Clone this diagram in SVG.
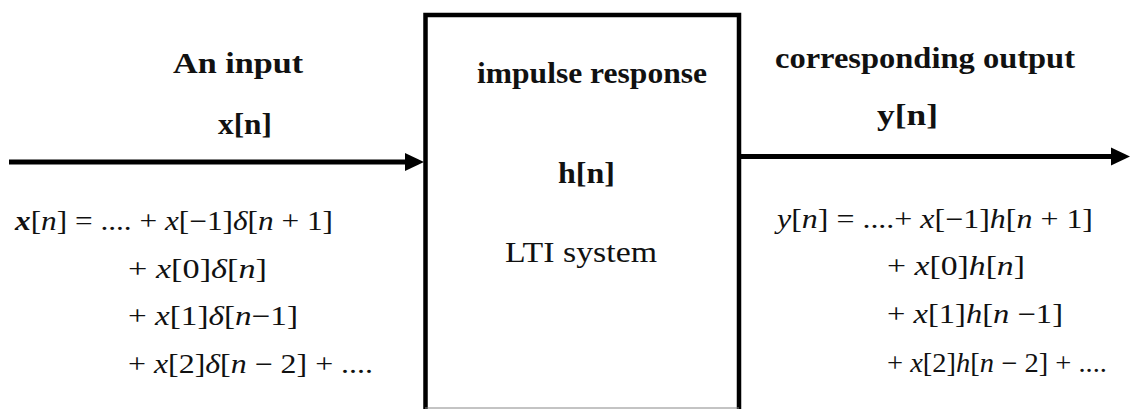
<svg xmlns="http://www.w3.org/2000/svg" width="1136" height="409" viewBox="0 0 1136 409">
<style>
.bg{fill:#ffffff}
.lbl{font-family:"Liberation Serif","Times New Roman",Tinos,serif;font-size:29px;fill:#111}
.b{font-weight:bold}
.eq{font-family:"Liberation Serif","Times New Roman",Tinos,serif;font-size:27px;fill:#111}
.i{font-style:italic}
.wire{stroke:#000;stroke-width:5;fill:none}
.box{stroke:#000;stroke-width:4.5;fill:none}
</style>
<defs>
<marker id="ah" markerUnits="userSpaceOnUse" markerWidth="20" markerHeight="20" refX="0" refY="10" orient="auto" viewBox="0 0 20 20">
<path d="M0,1 L19,10 L0,19 Z" fill="#000"/>
</marker>
</defs>
<rect class="bg" x="0" y="0" width="1136" height="409"/>

<g id="connectors">
<line class="wire" x1="9" y1="162" x2="405" y2="162" marker-end="url(#ah)"/>
<line class="wire" x1="741" y1="156.5" x2="1111" y2="156.5" marker-end="url(#ah)"/>
</g>

<g id="system">
<path class="box" d="M425.5,409 L425.5,15 L739,15 L739,409"/>
<line x1="425" y1="408" x2="739" y2="408" stroke="#888" stroke-width="1"/>
<text class="lbl b" x="477" y="83" textLength="230" lengthAdjust="spacingAndGlyphs">impulse response</text>
<text class="lbl b" x="558" y="183" textLength="57" lengthAdjust="spacingAndGlyphs">h[n]</text>
<text class="lbl" x="505" y="262" textLength="152" lengthAdjust="spacingAndGlyphs">LTI system</text>
</g>

<g id="input">
<text class="lbl b" x="173" y="73" textLength="130" lengthAdjust="spacingAndGlyphs">An  input</text>
<text class="lbl b" x="218" y="134" textLength="54" lengthAdjust="spacingAndGlyphs">x[n]</text>
<text class="eq" x="15" y="230" textLength="318" lengthAdjust="spacingAndGlyphs"><tspan class="i b">x</tspan>[<tspan class="i">n</tspan>] = ....  + <tspan class="i">x</tspan>[−1]<tspan class="i">δ</tspan>[<tspan class="i">n</tspan> + 1]</text>
<text class="eq" x="128" y="278" textLength="139" lengthAdjust="spacingAndGlyphs">+ <tspan class="i">x</tspan>[0]<tspan class="i">δ</tspan>[<tspan class="i">n</tspan>]</text>
<text class="eq" x="128" y="325" textLength="170" lengthAdjust="spacingAndGlyphs">+ <tspan class="i">x</tspan>[1]<tspan class="i">δ</tspan>[<tspan class="i">n</tspan>−1]</text>
<text class="eq" x="128" y="373" textLength="245" lengthAdjust="spacingAndGlyphs">+ <tspan class="i">x</tspan>[2]<tspan class="i">δ</tspan>[<tspan class="i">n</tspan> − 2] + ....</text>
</g>

<g id="output">
<text class="lbl b" x="775" y="68" textLength="300" lengthAdjust="spacingAndGlyphs">corresponding  output</text>
<text class="lbl b" x="877" y="125" textLength="61" lengthAdjust="spacingAndGlyphs">y[n]</text>
<text class="eq" x="777" y="228" textLength="316" lengthAdjust="spacingAndGlyphs"><tspan class="i">y</tspan>[<tspan class="i">n</tspan>] = ....+ <tspan class="i">x</tspan>[−1]<tspan class="i">h</tspan>[<tspan class="i">n</tspan> + 1]</text>
<text class="eq" x="887" y="275" textLength="138" lengthAdjust="spacingAndGlyphs">+ <tspan class="i">x</tspan>[0]<tspan class="i">h</tspan>[<tspan class="i">n</tspan>]</text>
<text class="eq" x="887" y="323" textLength="176" lengthAdjust="spacingAndGlyphs">+ <tspan class="i">x</tspan>[1]<tspan class="i">h</tspan>[<tspan class="i">n</tspan> −1]</text>
<text class="eq" x="887" y="372" textLength="220" lengthAdjust="spacingAndGlyphs">+ <tspan class="i">x</tspan>[2]<tspan class="i">h</tspan>[<tspan class="i">n</tspan>  − 2] + ....</text>
</g>
</svg>
